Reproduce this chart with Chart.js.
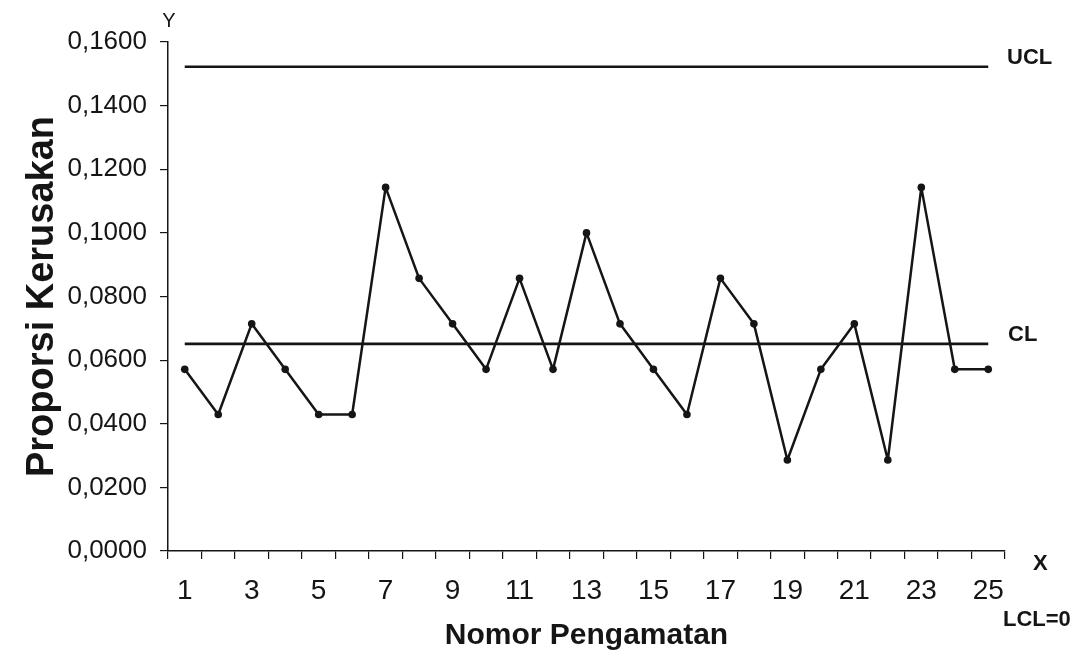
<!DOCTYPE html>
<html>
<head>
<meta charset="utf-8">
<script src="https://cdn.jsdelivr.net/npm/chart.js@4.4.1/dist/chart.umd.min.js"></script>
<style>
  body { margin: 0; background: #fff; }
  #wrap { width: 1077px; height: 658px; }
</style>
</head>
<body>
<div id="wrap"><canvas id="pChart" width="1077" height="658"></canvas></div>
<script>
const observations = [1, 2, 3, 4, 5, 6, 7, 8, 9, 10, 11, 12, 13, 14, 15, 16, 17, 18, 19, 20, 21, 22, 23, 24, 25];
const proportions = [0.0571, 0.0429, 0.0714, 0.0571, 0.0429, 0.0429, 0.1143, 0.0857, 0.0714, 0.0571,
                     0.0857, 0.0571, 0.1000, 0.0714, 0.0571, 0.0429, 0.0857, 0.0714, 0.0286, 0.0571,
                     0.0714, 0.0286, 0.1143, 0.0571, 0.0571];
const uclValue = 0.1522;
const clValue = 0.0651;
const lclValue = 0;
const yTicks = [0, 0.02, 0.04, 0.06, 0.08, 0.10, 0.12, 0.14, 0.16];

const fontFamily = "'Liberation Sans', Arial, sans-serif";
const ink = "#151515";

// text beside the control limits and the axis ends
const labelsPlugin = {
  id: "limitLabels",
  afterDraw(chart) {
    const ctx = chart.ctx;
    const x = chart.scales.x;
    const y = chart.scales.y;
    ctx.save();
    ctx.fillStyle = ink;
    ctx.textBaseline = "middle";
    ctx.textAlign = "left";
    ctx.font = "bold 22px " + fontFamily;
    ctx.fillText("UCL", 1007, y.getPixelForValue(uclValue) - 9);
    ctx.fillText("CL", 1008, y.getPixelForValue(clValue) - 9);
    ctx.fillText("X", 1033, y.getPixelForValue(0) + 13);
    ctx.fillText("LCL=" + lclValue, 1003, 620);
    ctx.font = "20px " + fontFamily;
    ctx.textAlign = "center";
    ctx.fillText("Y", x.left + 1, y.top - 21);
    ctx.restore();
  },
};

const ctx = document.getElementById("pChart").getContext("2d");

new Chart(ctx, {
  type: "line",
  data: {
    labels: observations,
    datasets: [
      {
        data: proportions,
        borderColor: ink,
        backgroundColor: ink,
        borderWidth: 2.5,
        borderJoinStyle: "round",
        pointRadius: 3.8,
        pointBorderWidth: 0,
        tension: 0,
        fill: false,
      },
      {
        data: observations.map(() => uclValue),
        borderColor: ink,
        borderWidth: 2.6,
        pointRadius: 0,
        fill: false,
      },
      {
        data: observations.map(() => clValue),
        borderColor: ink,
        borderWidth: 2.6,
        pointRadius: 0,
        fill: false,
      },
    ],
  },
  options: {
    responsive: false,
    animation: false,
    layout: {
      padding: { left: 0, top: 42, right: 72, bottom: 0 },
    },
    plugins: {
      legend: { display: false },
      tooltip: { enabled: false },
    },
    scales: {
      x: {
        type: "category",
        offset: true,
        afterFit: (scale) => { scale.height = 107; },
        grid: {
          offset: true,
          drawOnChartArea: false,
          drawTicks: true,
          tickLength: 8,
          color: ink,
          lineWidth: 1.2,
        },
        border: { display: true, color: ink, width: 1.5 },
        ticks: {
          autoSkip: false,
          maxRotation: 0,
          padding: 15,
          color: ink,
          font: { family: fontFamily, size: 28 },
          callback: function (value, index) {
            return index % 2 === 0 ? observations[index] : "";
          },
        },
        title: {
          display: true,
          text: "Nomor Pengamatan",
          color: ink,
          font: { family: fontFamily, size: 30, weight: "bold" },
          padding: { bottom: 4 },
        },
      },
      y: {
        min: 0,
        max: 0.16,
        afterFit: (scale) => { scale.width = 168; },
        afterBuildTicks: (scale) => {
          scale.ticks = yTicks.map((v) => ({ value: v }));
        },
        grid: {
          drawOnChartArea: false,
          drawTicks: true,
          tickLength: 8,
          color: ink,
          lineWidth: 1.2,
        },
        border: { display: true, color: ink, width: 1.5 },
        ticks: {
          padding: 13,
          color: ink,
          font: { family: fontFamily, size: 26 },
          callback: (value) => value.toFixed(4).replace(".", ","),
        },
        title: {
          display: true,
          text: "Proporsi Kerusakan",
          color: ink,
          font: { family: fontFamily, size: 38, weight: "bold" },
          padding: { top: 20 },
        },
      },
    },
  },
  plugins: [labelsPlugin],
});
</script>
</body>
</html>
